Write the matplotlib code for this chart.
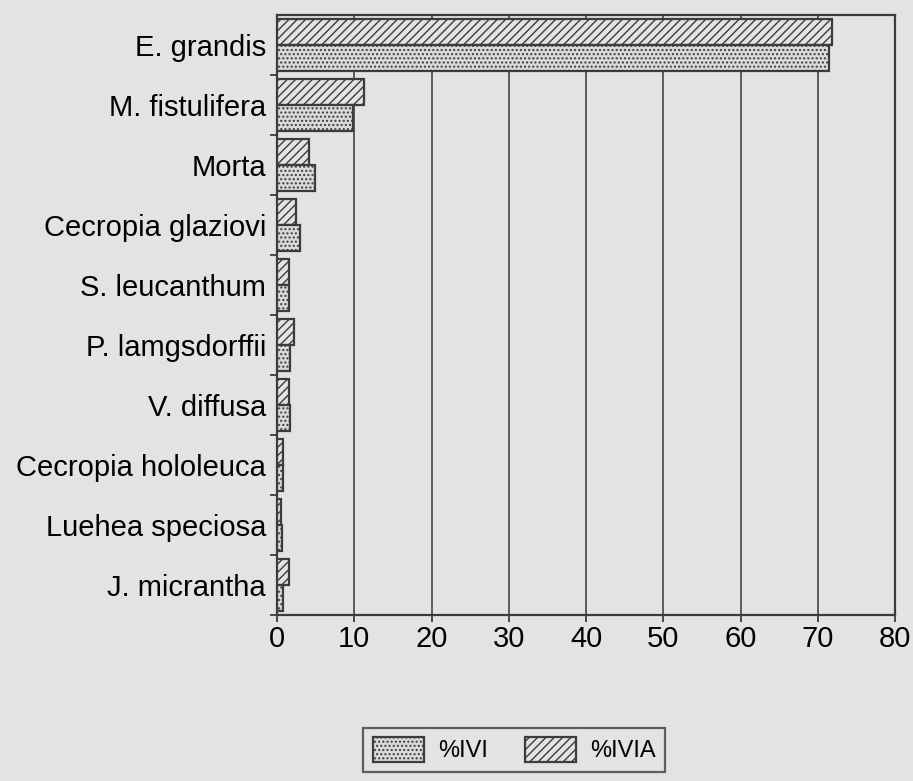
import numpy as np
import matplotlib
matplotlib.use('Agg')
import matplotlib.pyplot as plt
from matplotlib import rcParams

rcParams['font.family'] = ['Liberation Sans', 'DejaVu Sans']
rcParams['font.size'] = 21
rcParams['hatch.linewidth'] = 1.0

# データ
species = ['E. grandis', 'M. fistulifera', 'Morta', 'Cecropia glaziovi',
           'S. leucanthum', 'P. lamgsdorffii', 'V. diffusa',
           'Cecropia hololeuca', 'Luehea speciosa', 'J. micrantha']
ivia = [71.8, 11.3, 4.1, 2.5, 1.6, 2.2, 1.6, 0.8, 0.5, 1.5]
ivi = [71.5, 9.9, 4.9, 3.0, 1.6, 1.7, 1.7, 0.8, 0.7, 0.8]
xticks = [0, 10, 20, 30, 40, 50, 60, 70, 80]

bg = '#e3e3e3'
edge = '#3c3c3c'

fig = plt.figure(figsize=(9.13, 7.81), dpi=100, facecolor=bg)
ax = fig.add_axes([0.3034, 0.2125, 0.6770, 0.7683], facecolor=bg)

y = np.arange(len(species))
h = 0.435

rcParams['hatch.color'] = '#505050'
b2 = ax.barh(y - h / 2, ivia, height=h, color=bg, edgecolor=edge,
             linewidth=1.6, hatch='////', label='%IVIA', zorder=3)
rcParams['hatch.color'] = '#b8b8b8'
b1 = ax.barh(y + h / 2, ivi, height=h, color='#dadada', edgecolor=edge,
             linewidth=1.6, hatch='....', label='%IVI', zorder=3)

ax.set_xlim(0, 80)
ax.set_ylim(len(species) - 0.5, -0.5)
ax.set_xticks(xticks)
ax.set_yticks(y)
ax.set_yticklabels(species)
ax.set_yticks(np.arange(len(species)) + 0.5, minor=True)
ax.tick_params(axis='y', which='major', length=0, pad=8)
ax.tick_params(axis='y', which='minor', length=5, width=1.3, color=edge)
ax.tick_params(axis='x', length=5, width=1.3, color=edge, pad=2)

# 縦のグリッド線
for xv in xticks[1:-1]:
    ax.axvline(xv, color='#444444', linewidth=1.2, zorder=1)

for s in ax.spines.values():
    s.set_linewidth(1.6)
    s.set_color(edge)

leg = fig.legend(handles=[b1, b2], labels=['%IVI', '%IVIA'], ncol=2,
                 loc='upper center', bbox_to_anchor=(0.5635, 0.068),
                 borderaxespad=0, frameon=True, fancybox=False,
                 edgecolor=edge, facecolor=bg, handlelength=2.15,
                 handleheight=1.2, handletextpad=0.6, columnspacing=1.6,
                 borderpad=0.4, fontsize=17)
leg.get_frame().set_linewidth(1.6)

fig.savefig('out.png', dpi=100, facecolor=bg)
